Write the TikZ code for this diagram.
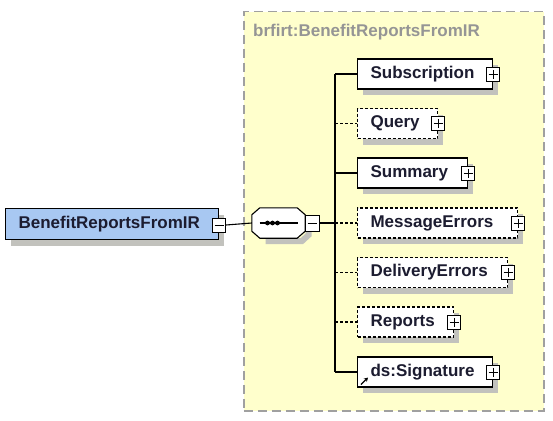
\documentclass[tikz,border=0pt]{standalone}
\usepackage{fontspec}
\setmainfont{Liberation Sans}
\usetikzlibrary{arrows.meta}
\definecolor{grpfill}{HTML}{FFFFCC}
\definecolor{grpline}{HTML}{A0A0A0}
\definecolor{grptext}{HTML}{959595}
\definecolor{mainfill}{HTML}{A8C8F2}
\definecolor{txt}{HTML}{1C1C30}
\definecolor{shd}{rgb}{0.76,0.76,0.74}
\tikzset{
  elem/.style={draw=black, line width=1.1pt, fill=white, minimum height=30pt,
    inner xsep=0pt, inner ysep=0pt, align=left, anchor=west,
    font=\fontsize{17}{20}\selectfont\bfseries, text=txt},
  opt/.style={dash pattern=on 3pt off 2pt},
  pm/.style={draw=black, line width=1pt, fill=white, minimum width=13pt,
    minimum height=14pt, inner sep=0pt},
  plusbox/.style={pm, path picture={
    \draw[line width=1pt] ([xshift=-4.5pt]path picture bounding box.center) -- ([xshift=4.5pt]path picture bounding box.center);
    \draw[line width=1pt] ([yshift=-4.5pt]path picture bounding box.center) -- ([yshift=4.5pt]path picture bounding box.center);}},
  minusbox/.style={pm, path picture={
    \draw[line width=1pt] ([xshift=-4.5pt]path picture bounding box.center) -- ([xshift=4.5pt]path picture bounding box.center);}},
  seqnode/.style={rectangle, draw=none, minimum width=53pt, minimum height=30pt, inner sep=0pt},
  grpbox/.style={draw=grpline, fill=grpfill, line width=1.5pt, dash pattern=on 9pt off 5pt,
    anchor=north west, inner sep=0pt},
  conn/.style={line width=1.1pt},
  dropsh/.style={draw=shd, line width=6pt, line cap=butt, line join=miter},
}
\begin{document}
\begin{tikzpicture}[x=1pt,y=-1pt]
\fill[white] (0,0) rectangle (553,420);
\useasboundingbox (0,0) rectangle (553,420);
% group container
\node[grpbox, minimum width=300pt, minimum height=399pt] (grp) at (243,11) {};
\node[anchor=west, inner sep=0pt, text=grptext, font=\fontsize{17}{20}\selectfont\bfseries] (grplabel) at (253,32) {brfirt:BenefitReportsFromIR};
% shadows (strips 6 wide along the lower and right sides)
\draw[dropsh] (11,242.5) -- (221,242.5) -- (221,214.5);
\draw[dropsh] (265.5,241) -- (302,241) -- (308.5,235) -- (308.5,221);
\foreach \yy/\ww in {74/135,123.5/80,173/110,223/160,272.5/150,322/96,372/135}
  \draw[dropsh] (363,\yy+18) -- (360+\ww,\yy+18) -- (360+\ww,\yy-9);
% main element
\node[elem, fill=mainfill, text width=213pt, minimum height=31pt] (main) at (5,224) {\hspace*{13pt}BenefitReportsFromIR};
\node[minusbox] (mm) at (219,225) {};
% sequence compositor
\node[seqnode] (seq) at (278.5,223) {};
\draw[line width=1.1pt, fill=white]
  ([xshift=8pt]seq.north west) -- ([xshift=-8pt]seq.north east) -- ([yshift=-7pt]seq.north east)
  -- ([yshift=7pt]seq.south east) -- ([xshift=-8pt]seq.south east) -- ([xshift=8pt]seq.south west)
  -- ([yshift=7pt]seq.south west) -- ([yshift=-7pt]seq.north west) -- cycle;
\draw[line width=1.1pt] ([xshift=-19pt]seq.center) -- ([xshift=19pt]seq.center);
\foreach \dx in {-11,-6,-1} \fill ([xshift=\dx pt]seq.center) circle (2.4pt);
\node[minusbox, anchor=west, minimum height=16pt, minimum width=14pt] (sm) at ([xshift=-0.5pt]seq.east) {};
\coordinate (bus) at (335,223);
% children
\node[elem, text width=135pt] (c1) at (357,74) {\hspace*{13pt}Subscription};
\node[elem, opt, text width=80pt] (c2) at (357,123.5) {\hspace*{13pt}Query};
\node[elem, text width=110pt] (c3) at (357,173) {\hspace*{13pt}Summary};
\node[elem, opt, text width=160pt] (c4) at (357,223) {\hspace*{13pt}MessageErrors};
\node[elem, opt, text width=150pt] (c5) at (357,272.5) {\hspace*{13pt}DeliveryErrors};
\node[elem, opt, text width=96pt] (c6) at (357,322) {\hspace*{13pt}Reports};
\node[elem, text width=135pt] (c7) at (357,372) {\hspace*{13pt}ds:Signature};
% plus boxes
\foreach \i in {1,...,7} \node[plusbox] (p\i) at (c\i.east) {};
% connectors
\draw[conn] (mm.east) -- (seq.west);
\draw[conn] (sm.east) -- (bus);
\draw[conn] (c1.west -| bus) -- (c7.west -| bus);
\draw[conn] (c1.west -| bus) -- (c1.west);
\draw[conn, opt] (c2.west -| bus) -- (c2.west);
\draw[conn] (c3.west -| bus) -- (c3.west);
\draw[conn, opt] (c4.west -| bus) -- (c4.west);
\draw[conn, opt] (c5.west -| bus) -- (c5.west);
\draw[conn, opt] (c6.west -| bus) -- (c6.west);
\draw[conn] (c7.west -| bus) -- (c7.west);
% reference link icon
\coordinate (lk) at ([xshift=4pt,yshift=3pt]c7.south west);
\draw[line width=1.3pt, -{Stealth[length=4pt,width=4.5pt]}] (lk) -- ++(7,-7);
\end{tikzpicture}
\end{document}
